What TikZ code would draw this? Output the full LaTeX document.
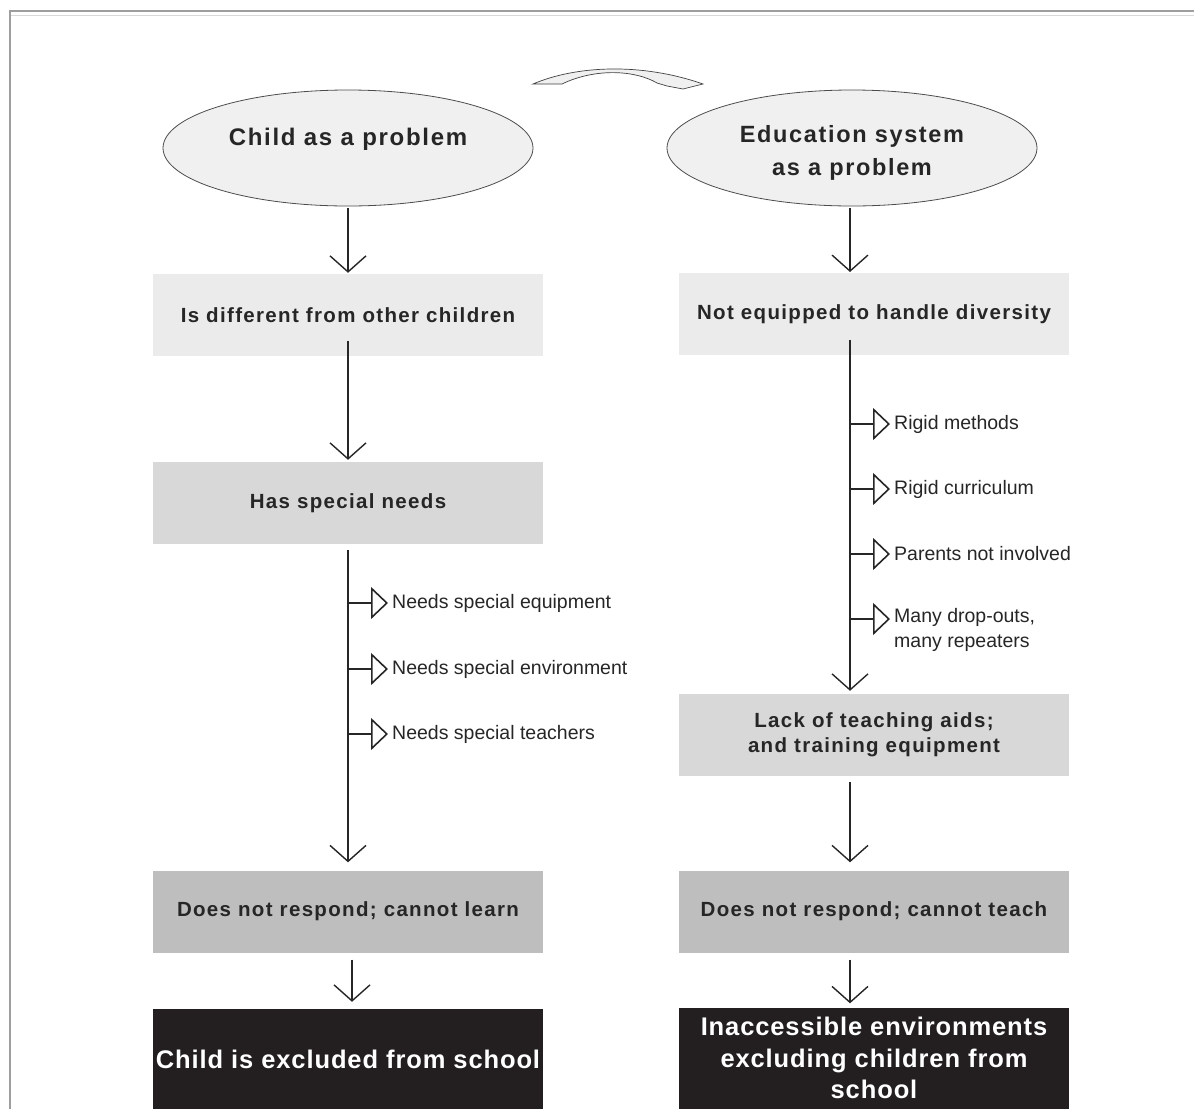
\documentclass[tikz,border=0pt]{standalone}
\usepackage{fontspec}
\setmainfont{Liberation Sans}
\newfontfamily\ellfont{Liberation Sans}[LetterSpace=7]
\newfontfamily\boxfont{Liberation Sans}[LetterSpace=6.5]
\newfontfamily\kfont{Liberation Sans}[LetterSpace=3.5]
\usetikzlibrary{arrows.meta,shapes.geometric}
\definecolor{lightbox}{HTML}{EBEBEB}
\definecolor{midbox}{HTML}{D8D8D8}
\definecolor{darkbox}{HTML}{BEBEBE}
\definecolor{blackbox}{HTML}{231F20}
\definecolor{ellfill}{HTML}{F0F0F0}
\tikzset{
  ell/.style={ellipse, draw=black!70, line width=0.8pt, fill=ellfill, minimum width=370pt, minimum height=116pt, inner sep=0pt},
  ebox/.style={rectangle, minimum width=390pt, minimum height=82pt, inner sep=0pt, align=center, font=\boxfont\fontsize{20.5}{25}\selectfont\bfseries, text=black!85},
  kbox/.style={rectangle, fill=blackbox, minimum width=390pt, minimum height=101pt, inner sep=0pt, align=center, font=\kfont\fontsize{25.5}{32}\selectfont\bfseries, text=white},
  flow/.style={draw=black!85, line width=1.6pt, -{Straight Barb[length=16pt,width=36pt,line width=1.4pt]}},
  branch/.style={draw=black!85, line width=1.6pt, -{Triangle[open,length=17pt,width=32pt,line width=1.6pt]}},
  blabel/.style={anchor=west, inner sep=0pt, align=left, font=\fontsize{19.5}{25}\selectfont, text=black!85},
  frame/.style={draw=black!38, line width=2pt}
}
\begin{document}
\begin{tikzpicture}[x=1pt,y=-1pt]
\useasboundingbox (0,0) rectangle (1194,1109);
% frame
\draw[frame] (10,1109) -- (10,11) -- (1194,11);
\draw[black!15, line width=1.5pt] (11,15.5) -- (1194,15.5);
% curved arrow at top
\draw[black!75, line width=0.7pt, fill=black!6] (533,84) .. controls (575,66) and (640,62) .. (703,84)
  -- (683,89) -- (667,86) -- (657,83) .. controls (635,70) and (595,68) .. (562,84) -- cycle;
% left column
\node[ell] (le) at (348,148) {};
\node[font=\ellfont\fontsize{24}{28}\selectfont\bfseries, text=black!85] (let) at (348,139) {Child as a problem};
\node[ebox, fill=lightbox] (l1) at (348,315) {Is different from other children};
\node[ebox, fill=midbox] (l2) at (348,503) {Has special needs};
\node[ebox, fill=darkbox] (l3) at (348,911.5) {Does not respond; cannot learn};
\node[kbox, minimum height=100pt] (l4) at (348,1059) {Child is excluded from school};
% right column
\node[ell] (re) at (852,148) {};
\node[font=\ellfont\fontsize{23.5}{33}\selectfont\bfseries, text=black!85, align=center] (ret) at (852,153) {Education system\\as a problem};
\node[ebox, fill=lightbox] (r1) at (874,314) {Not equipped to handle diversity};
\node[ebox, fill=midbox] (r2) at (874,735) {Lack of teaching aids;\\and training equipment};
\node[ebox, fill=darkbox] (r3) at (874,911.5) {Does not respond; cannot teach};
\node[kbox, font=\kfont\fontsize{25.5}{31.5}\selectfont\bfseries] (r4) at (874,1058) {Inaccessible environments\\excluding children from\\school};
% left flow arrows
\draw[flow] (348,208) -- ([yshift=1pt]l1.north);
\draw[flow] ([yshift=15pt]l1.south) -- ([yshift=2pt]l2.north);
\draw[flow] ([yshift=-6pt]l2.south) -- ([yshift=8pt]l3.north);
\draw[flow] ([xshift=4pt,yshift=-7pt]l3.south) -- ([xshift=4pt,yshift=7pt]l4.north);
% right flow arrows
\draw[flow] (850,208) -- (850,272);
\draw[flow] (850,340) -- ([yshift=3pt]r2.north -| 850,0);
\draw[flow] ([yshift=-6pt]r2.south -| 850,0) -- ([yshift=8pt]r3.north -| 850,0);
\draw[flow] ([yshift=-7pt]r3.south -| 850,0) -- ([yshift=4pt]r4.north -| 850,0);
% left branches
\node[blabel] (lb1) at (392,603) {Needs special equipment};
\node[blabel] (lb2) at (392,669) {Needs special environment};
\node[blabel] (lb3) at (392,734) {Needs special teachers};
\foreach \n in {lb1,lb2,lb3} \draw[branch] (\n.west -| 349,0) -- ([xshift=-4pt]\n.west);
% right branches
\node[blabel] (rb1) at (894,424) {Rigid methods};
\node[blabel] (rb2) at (894,489) {Rigid curriculum};
\node[blabel] (rb3) at (894,554) {Parents not involved};
\node[blabel, anchor=north west] (rb4) at (894,608) {Many drop-outs,\\many repeaters};
\coordinate (rb4a) at (894,619);
\foreach \n in {rb1,rb2,rb3} \draw[branch] (\n.west -| 851,0) -- ([xshift=-4pt]\n.west);
\draw[branch] (851,619) -- ([xshift=-4pt]rb4a);
\end{tikzpicture}
\end{document}
